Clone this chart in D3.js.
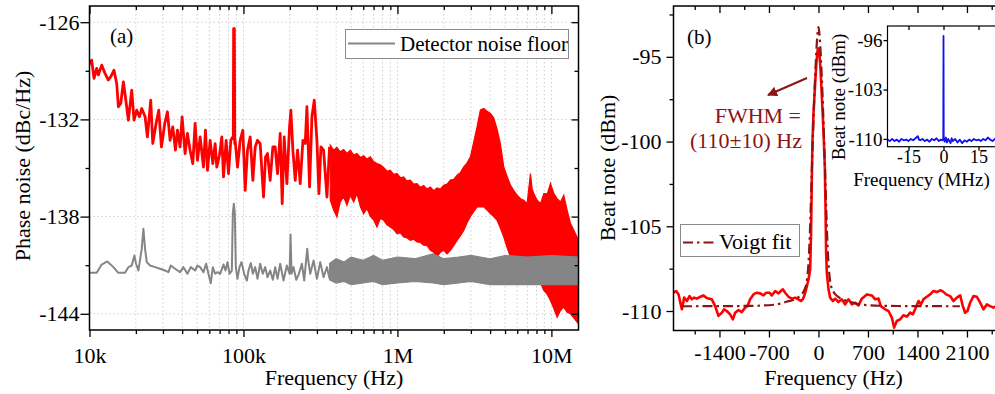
<!DOCTYPE html>
<html><head><meta charset="utf-8">
<script src="https://cdn.jsdelivr.net/npm/d3@7"></script>
<style>body{margin:0;background:#fff}svg{display:block}</style>
</head><body><svg id="c" width="995" height="394"></svg>
<script>
// ---------------- DATA ----------------
// Panel (a): phase noise, sparse part of the red trace (Hz, dBc/Hz)
const aRedFreq = [10000,10330,10700,11130,11410,12000,12610,13260,13730,14430,15020,15400,15950,16600,17270,17890,18800,19470,20260,21090,21840,22960,23770,24990,25750,27060,28170,29320,30820,32070,33380,34740,36150,37250,38770,39950,41780,43260,45030,46870,48530,50260,52300,54980,56650,58370,60750,63230,65470,67130,69840,72330,74180,77200,79940,82780,85290,85900,86300,87300,87800,88330,91460,95190,99060,102600,106200,110600,115100,119200,123400,128400,135000,139100,143300,149100,155200,160700,166400,173200,178500,183900,191400,199200,203200,209400,216900,224600,233700,243300,251900,258300,268800,278400,288300,300000,309100,318500,331400,348400,362600];
const aRedLevel = [-128.6,-128.34,-129.47,-128.85,-129.26,-128.65,-129.16,-129.57,-129.37,-128.96,-129.78,-131.22,-131.02,-129.68,-130.91,-132.05,-130.19,-132.05,-131.43,-131.84,-131.33,-131.84,-133.08,-130.81,-133.49,-132.25,-131.43,-133.70,-132.25,-131.53,-133.29,-132.46,-133.90,-132.67,-133.70,-131.84,-134.11,-132.87,-133.90,-134.73,-132.25,-134.52,-133.08,-134.94,-132.67,-135.14,-133.29,-134.73,-133.49,-134.94,-134.21,-133.08,-135.55,-133.29,-135.35,-133.29,-133.08,-133.2,-126.4,-126.4,-133.5,-133.29,-134.94,-133.29,-132.67,-136.38,-133.90,-133.08,-135.76,-133.70,-133.29,-133.49,-136.79,-134.32,-134.11,-135.76,-133.70,-133.70,-135.35,-132.87,-137.20,-133.08,-135.97,-132.46,-131.43,-133.90,-135.76,-133.90,-135.97,-133.29,-133.49,-131.22,-136.17,-131.84,-130.81,-133.29,-136.58,-133.70,-133.90,-136.79,-133.70];
// Panel (a): dense part of the red trace, upper / lower envelope
const aRedBandFreq  = [366200,385000,404600,425000,447200,470000,494000,520000,546000,575000,603200,635000,666600,700000,736500,775000,813600,855000,899000,945000,993600,1045000,1098000,1150000,1213000,1275000,1340000,1410000,1481000,1560000,1637000,1720000,1808000,1900000,1998000,2100000,2208000,2320000,2440000,2560000,2696000,2830000,2979000,3130000,3292000,3459000,3637000,3820000,4018000,4220000,4440000,4660000,4906000,5150000,5422000,5700000,5990000,6300000,6621000,6957000,7313000,7500000,7688000,8083000,8500000,8929000,9400000,9866000,10400000,10900000,11450000,12040000,12650000,13310000,14100000,15000000];
const aRedBandUpper = [-133.59,-133.9,-133.73,-134.0,-133.86,-134.1,-133.90,-134.2,-134.10,-134.35,-134.25,-134.45,-134.31,-134.6,-134.72,-134.8,-134.97,-135.2,-135.14,-135.4,-135.34,-135.6,-135.55,-135.8,-135.75,-136.0,-135.96,-136.2,-136.08,-136.3,-136.17,-136.4,-136.23,-136.3,-136.06,-136.0,-135.75,-135.7,-135.44,-135.3,-134.93,-134.7,-134.31,-133.4,-132.45,-131.42,-131.32,-131.5,-131.63,-131.9,-132.6,-133.5,-134.93,-135.5,-136.06,-136.4,-136.68,-136.9,-136.99,-137.20,-135.34,-136.3,-136.58,-136.99,-137.2,-136.58,-136.6,-135.96,-136.6,-136.89,-137.1,-136.68,-137.6,-138.43,-138.9,-139.47];
const aRedBandLower = [-136.99,-137.6,-138.02,-137.1,-136.78,-137.3,-136.68,-137.1,-136.58,-137.4,-137.82,-137.5,-137.99,-138.2,-138.64,-138.1,-138.23,-138.5,-138.64,-138.8,-139.05,-139.0,-139.26,-139.3,-139.47,-139.4,-139.57,-139.6,-139.77,-139.8,-140.08,-140.2,-140.50,-140.2,-140.08,-140.3,-140.08,-139.8,-139.47,-139.2,-138.85,-138.4,-137.99,-137.7,-137.40,-137.40,-137.40,-137.6,-137.82,-138.0,-138.23,-138.7,-139.26,-139.9,-140.50,-140.5,-140.70,-140.9,-141.11,-140.90,-140.70,-140.9,-141.0,-141.53,-142.1,-142.56,-142.8,-143.18,-143.7,-144.21,-143.8,-143.59,-143.9,-144.0,-144.3,-144.62];
// Panel (a): detector noise floor (grey), sparse part
const aGrayFreq = [10000,11130,12000,13060,14290,15400,17010,17890,18800,19570,20060,20770,21840,22390,22960,23540,24740,26670,28730,30970,32560,33710,35970,38770,40750,43260,45480,48530,50260,52300,54980,57220,59250,61360,63230,65470,67800,70560,74180,76430,78760,81160,84050,85290,86570,87870,89200,91460,94240,97100,101100,105200,107800,111700,115100,119200,123400,128400,133600,138400,143300,149100,155200,160700,166400,173200,182100,191400,199200,202200,205300,211500,220100,229100,239600,248200,255700,259600,263500,271500,285400,300000,315300,331400,348400,362600];
const aGrayLevel = [-141.47,-141.47,-140.96,-140.77,-141.12,-141.47,-141.47,-141.12,-141.02,-140.40,-140.91,-141.33,-139.99,-138.75,-139.99,-140.81,-141.02,-141.12,-141.22,-141.33,-141.43,-141.02,-141.22,-141.43,-141.12,-141.53,-141.12,-141.33,-141.02,-141.12,-141.43,-140.91,-141.53,-142.11,-141.12,-141.53,-141.43,-141.53,-140.96,-141.33,-140.81,-141.53,-141.33,-137.82,-137.20,-137.82,-141.12,-141.84,-141.12,-140.81,-141.53,-141.95,-141.33,-140.87,-141.53,-141.12,-141.84,-140.91,-141.53,-141.12,-141.74,-141.33,-141.90,-141.12,-141.84,-140.91,-141.95,-141.02,-141.53,-139.10,-141.53,-141.12,-141.90,-141.53,-140.91,-141.95,-140.61,-139.99,-140.71,-141.53,-140.71,-141.84,-140.81,-141.74,-141.12,-141.84];
// Panel (a): detector noise floor, dense part envelope
const aGrayBandFreq  = [362600,400000,450000,500000,600000,700000,800000,1000000,1300000,1700000,2000000,2500000,3000000,4000000,5000000,7000000,10000000,15000000];
const aGrayBandUpper = [-140.9,-140.6,-140.8,-140.5,-140.7,-140.4,-140.7,-140.5,-140.6,-140.3,-140.6,-140.5,-140.4,-140.6,-140.4,-140.5,-140.4,-140.5];
const aGrayBandLower = [-141.9,-142.1,-142.0,-142.2,-142.1,-142.0,-142.2,-142.1,-142.0,-142.1,-142.2,-142.1,-142.0,-142.2,-142.2,-142.2,-142.2,-142.2];
const aXTicks = [1e4,1e5,1e6,1e7];
const aXLabels = ["10k","100k","1M","10M"];
const aYTicks = [-126,-132,-138,-144];
const aYLabels = ["-126","-132","-138","-144"];
const aYMinor = [-129,-135,-141];

// Panel (b): beat note (Hz, dBm)
const bBeatFreq = [-2050,-2012,-1979,-1932,-1899,-1861,-1824,-1791,-1758,-1720,-1673,-1626,-1588,-1555,-1508,-1461,-1414,-1366,-1334,-1296,-1249,-1211,-1178,-1131,-1084,-1037,-1004,-966,-919,-872,-824,-777,-740,-693,-660,-612,-565,-532,-504,-471,-424,-377,-330,-283,-249,-221,-202,-174,-141,-117,-105,-95,-85,-70,-50,-30,-12,0,12,30,50,70,90,100,108,118,142,165,203,236,283,330,378,425,472,519,566,613,684,755,802,849,882,943,990,1038,1070,1108,1155,1202,1250,1297,1334,1367,1415,1448,1485,1532,1580,1627,1674,1721,1759,1806,1862,1909,1957,2004,2042,2074,2107,2145,2192,2240,2287,2334,2381,2428,2475,2520];
const bBeatLevel = [-108.92,-108.82,-109.02,-109.90,-109.21,-109.41,-109.12,-109.31,-109.21,-109.27,-109.16,-109.08,-109.21,-109.27,-109.31,-109.71,-110.29,-110.10,-109.90,-110.0,-110.20,-110.49,-110.10,-109.94,-110.06,-109.80,-109.71,-109.31,-109.02,-108.92,-108.96,-109.08,-108.92,-108.92,-109.08,-108.82,-108.96,-108.82,-108.72,-108.92,-109.16,-109.27,-109.21,-109.31,-109.41,-109.31,-109.12,-108.72,-108.14,-107.55,-105.5,-102.5,-100.0,-98.3,-96.8,-95.4,-94.6,-94.5,-94.7,-95.8,-97.5,-99.3,-101.5,-104.0,-106.5,-107.74,-108.72,-109.21,-109.41,-109.27,-109.47,-109.31,-109.61,-109.31,-109.61,-109.51,-109.67,-109.27,-109.02,-109.08,-109.31,-109.27,-109.71,-109.90,-110.0,-110.39,-110.98,-110.59,-110.49,-110.25,-110.33,-110.10,-110.20,-109.90,-109.41,-109.61,-109.31,-109.16,-109.02,-108.82,-108.88,-108.78,-108.84,-109.02,-109.12,-109.41,-109.21,-109.08,-109.71,-110.10,-110.0,-109.51,-109.12,-109.16,-109.51,-109.90,-109.61,-109.71,-109.80,-109.7];
const bFitFreq  = [-1930,-1000,-600,-450,-350,-260,-210,-170,-145,-125,-105,-85,-65,-45,-25,-10,0,10,25,45,65,85,105,125,145,170,210,260,350,450,600,1000,2000];
const bFitLevel = [-109.72,-109.70,-109.62,-109.45,-109.33,-109.1,-108.85,-108.35,-107.4,-105.8,-103.3,-100.6,-98.1,-96.0,-94.3,-93.5,-93.25,-93.5,-94.3,-96.0,-98.1,-100.6,-103.3,-105.8,-107.4,-108.35,-108.85,-109.1,-109.33,-109.45,-109.62,-109.70,-109.72];
const bXTicks = [-1400,-700,0,700,1400,2100];
const bXLabels = ["-1400","-700","0","700","1400","2100"];
const bXMinor = [-1750,-1050,-350,350,1050,1750,2450];
const bYTicks = [-95,-100,-105,-110];
const bYLabels = ["-95","-100","-105","-110"];
const bYMinor = [-92.5,-97.5,-102.5,-107.5];

// Inset: wide span beat note (MHz, dBm)
const insetFreq = [-24,-23,-22,-21,-20,-19,-18,-17,-16,-15,-14,-13,-12,-11,-10.5,-10,-9,-8,-7,-6,-5,-4,-3,-2,-1,-0.5,-0.1,0,0.1,0.5,1,1.5,2,3,3.5,4,5,6,7,8,9,10,11,12,13,14,15,16,17,18,19,20,21,22,23,24];
const insetLevel = [-110.1,-110.3,-110.0,-110.3,-110.1,-110.4,-110.0,-110.2,-110.1,-110.3,-110.0,-110.2,-109.9,-109.6,-110.1,-110.2,-110.0,-110.3,-110.1,-110.4,-110.0,-110.2,-109.9,-110.3,-110.1,-110.2,-110.0,-95.4,-110.0,-110.4,-109.8,-110.5,-110.0,-110.6,-109.9,-110.3,-110.0,-110.5,-110.1,-110.6,-110.2,-110.4,-110.1,-110.3,-110.0,-110.2,-110.1,-110.3,-110.0,-110.2,-109.8,-110.1,-110.3,-110.0,-110.2,-110.1];
const inXTicks = [-15,0,15];
const inXLabels = ["-15","0","15"];
const inYTicks = [-96,-103,-110];
const inYLabels = ["-96","-103","-110"];

// ---------------- DRAWING ----------------
const FONT = '"Liberation Serif","Times New Roman",Times,serif';
const RED = "#ff0000", GRAY = "#858585", DARKRED = "#8b1414", BLUE = "#1010f0";
const svg = d3.select("#c").attr("font-family", FONT);

function styleAxis(g, size) {
  g.attr("font-family", FONT).attr("font-size", size);
  g.select(".domain").remove();
  g.selectAll(".tick line").attr("stroke", "#000").attr("stroke-width", 1.3);
  g.selectAll(".tick text").attr("fill", "#000");
  return g;
}

// ===== Panel (a) =====
const aL = 89.5, aR = 578.5, aT = 6, aB = 330;
const ax = d3.scaleLog().domain([1e4, 1.5e7]).range([aL, aR]);
const ay = d3.scaleLinear().domain([-145, -125]).range([aB, aT]);
const aXMinor = [];
[1e4, 1e5, 1e6, 1e7].forEach(d => { for (let k = 2; k <= 9; k++) { const v = d * k; if (v < 1.5e7) aXMinor.push(v); } });

const ga = svg.append("g");
ga.append("g").selectAll("line").data(aXMinor.concat([1e5, 1e6, 1e7])).join("line")
  .attr("x1", d => ax(d)).attr("x2", d => ax(d)).attr("y1", aT).attr("y2", aB)
  .attr("stroke", "#cfcfcf").attr("stroke-width", 1).attr("stroke-dasharray", "1.5,2.5");
ga.append("g").selectAll("line").data(aYTicks).join("line")
  .attr("x1", aL).attr("x2", aR).attr("y1", d => ay(d)).attr("y2", d => ay(d))
  .attr("stroke", "#cfcfcf").attr("stroke-width", 1).attr("stroke-dasharray", "1.5,2.5");

svg.append("clipPath").attr("id", "clipA").append("rect").attr("x", aL).attr("y", aT).attr("width", aR - aL).attr("height", aB - aT);
const gaData = ga.append("g").attr("clip-path", "url(#clipA)");

const redBand = aRedBandFreq.map((f, i) => ({ f, u: aRedBandUpper[i], l: aRedBandLower[i] }));
gaData.append("path").datum(redBand)
  .attr("d", d3.area().x(d => ax(d.f)).y0(d => ay(d.l)).y1(d => ay(d.u)))
  .attr("fill", RED).attr("stroke", RED).attr("stroke-width", 1.2).attr("stroke-linejoin", "miter");
gaData.append("path").datum(aRedFreq.map((f, i) => [f, aRedLevel[i]]))
  .attr("d", d3.line().x(d => ax(d[0])).y(d => ay(d[1])))
  .attr("fill", "none").attr("stroke", RED).attr("stroke-width", 2.8).attr("stroke-linejoin", "round");

const grayBand = aGrayBandFreq.map((f, i) => ({ f, u: aGrayBandUpper[i], l: aGrayBandLower[i] }));
gaData.append("path").datum(grayBand)
  .attr("d", d3.area().x(d => ax(d.f)).y0(d => ay(d.l)).y1(d => ay(d.u)))
  .attr("fill", GRAY).attr("stroke", GRAY).attr("stroke-width", 1.2);
gaData.append("path").datum(aGrayFreq.map((f, i) => [f, aGrayLevel[i]]))
  .attr("d", d3.line().x(d => ax(d[0])).y(d => ay(d[1])))
  .attr("fill", "none").attr("stroke", GRAY).attr("stroke-width", 2).attr("stroke-linejoin", "round");

styleAxis(ga.append("g").attr("transform", `translate(${aL},0)`)
  .call(d3.axisLeft(ay).tickValues(aYTicks).tickSize(9).tickPadding(1).tickFormat((d, i) => aYLabels[i])), 22);
styleAxis(ga.append("g").attr("transform", `translate(${aL},0)`)
  .call(d3.axisLeft(ay).tickValues(aYMinor).tickSize(4).tickFormat("")), 22);
styleAxis(ga.append("g").attr("transform", `translate(${aR},0)`)
  .call(d3.axisLeft(ay).tickValues(aYTicks).tickSize(7).tickFormat("")), 22);
styleAxis(ga.append("g").attr("transform", `translate(${aR},0)`)
  .call(d3.axisLeft(ay).tickValues(aYMinor).tickSize(4).tickFormat("")), 22);
styleAxis(ga.append("g").attr("transform", `translate(0,${aB})`)
  .call(d3.axisBottom(ax).tickValues(aXTicks).tickSize(7).tickPadding(10).tickFormat((d, i) => aXLabels[i])), 22);
styleAxis(ga.append("g").attr("transform", `translate(0,${aB})`)
  .call(d3.axisBottom(ax).tickValues(aXMinor).tickSize(4).tickFormat("")), 22);
styleAxis(ga.append("g").attr("transform", `translate(0,${aT})`)
  .call(d3.axisBottom(ax).tickValues(aXTicks).tickSize(8).tickFormat("")), 22);
styleAxis(ga.append("g").attr("transform", `translate(0,${aT})`)
  .call(d3.axisBottom(ax).tickValues(aXMinor).tickSize(4).tickFormat("")), 22);
ga.append("rect").attr("x", aL).attr("y", aT).attr("width", aR - aL).attr("height", aB - aT)
  .attr("fill", "none").attr("stroke", "#000").attr("stroke-width", 1.5);

ga.append("text").attr("x", (aL + aR) / 2).attr("y", 385).attr("text-anchor", "middle").attr("font-size", 22).text("Frequency (Hz)");
ga.append("text").attr("transform", "translate(30,166) rotate(-90)").attr("text-anchor", "middle").attr("font-size", 22).text("Phase noise (dBc/Hz)");
ga.append("text").attr("x", 110).attr("y", 43).attr("font-size", 21).text("(a)");
ga.append("rect").attr("x", 345.5).attr("y", 29.5).attr("width", 223).attr("height", 29)
  .attr("fill", "#fff").attr("stroke", "#8a8a8a").attr("stroke-width", 1);
ga.append("line").attr("x1", 348).attr("x2", 395).attr("y1", 43.5).attr("y2", 43.5).attr("stroke", GRAY).attr("stroke-width", 2);
ga.append("text").attr("x", 400).attr("y", 51).attr("font-size", 21).text("Detector noise floor");

// ===== Panel (b) =====
const bL = 673.5, bT = 6, bB = 330.5;
const bx = d3.scaleLinear().domain([-2050, 2550]).range([bL, bL + 4600 * 0.070714]);
const by = d3.scaleLinear().domain([-111.15, -92]).range([bB, bT]);
const bR = bx(2550);
const gb = svg.append("g");
svg.append("clipPath").attr("id", "clipB").append("rect").attr("x", bL).attr("y", bT).attr("width", bR - bL).attr("height", bB - bT);
const gbData = gb.append("g").attr("clip-path", "url(#clipB)");
gbData.append("path").datum(bBeatFreq.map((f, i) => [f, bBeatLevel[i]]))
  .attr("d", d3.line().x(d => bx(d[0])).y(d => by(d[1])))
  .attr("fill", "none").attr("stroke", RED).attr("stroke-width", 2.6).attr("stroke-linejoin", "round");
gbData.append("path").datum(bFitFreq.map((f, i) => [f, bFitLevel[i]]))
  .attr("d", d3.line().curve(d3.curveMonotoneX).x(d => bx(d[0])).y(d => by(d[1])))
  .attr("fill", "none").attr("stroke", DARKRED).attr("stroke-width", 2.2).attr("stroke-dasharray", "10,4,2.5,4");

styleAxis(gb.append("g").attr("transform", `translate(${bL},0)`)
  .call(d3.axisLeft(by).tickValues(bYTicks).tickSize(7).tickPadding(5).tickFormat((d, i) => bYLabels[i])), 22);
styleAxis(gb.append("g").attr("transform", `translate(${bL},0)`)
  .call(d3.axisLeft(by).tickValues(bYMinor).tickSize(4).tickFormat("")), 22);
styleAxis(gb.append("g").attr("transform", `translate(0,${bB})`)
  .call(d3.axisBottom(bx).tickValues(bXTicks).tickSize(7).tickPadding(7).tickFormat((d, i) => bXLabels[i])), 22);
styleAxis(gb.append("g").attr("transform", `translate(0,${bB})`)
  .call(d3.axisBottom(bx).tickValues(bXMinor).tickSize(4).tickFormat("")), 22);
styleAxis(gb.append("g").attr("transform", `translate(0,${bT})`)
  .call(d3.axisBottom(bx).tickValues(bXTicks).tickSize(7).tickFormat("")), 22);
styleAxis(gb.append("g").attr("transform", `translate(0,${bT})`)
  .call(d3.axisBottom(bx).tickValues(bXMinor).tickSize(4).tickFormat("")), 22);
gb.append("rect").attr("x", bL).attr("y", bT).attr("width", bR - bL).attr("height", bB - bT)
  .attr("fill", "none").attr("stroke", "#000").attr("stroke-width", 1.5);

gb.append("text").attr("x", 833.5).attr("y", 385).attr("text-anchor", "middle").attr("font-size", 22).text("Frequency (Hz)");
gb.append("text").attr("transform", "translate(615,168) rotate(-90)").attr("text-anchor", "middle").attr("font-size", 22).text("Beat note (dBm)");
gb.append("text").attr("x", 687).attr("y", 44).attr("font-size", 21).text("(b)");
gb.append("text").attr("x", 801).attr("y", 123).attr("text-anchor", "end").attr("font-size", 22).attr("fill", DARKRED).text("FWHM =");
gb.append("text").attr("x", 802).attr("y", 148).attr("text-anchor", "end").attr("font-size", 22).attr("fill", DARKRED).text("(110\u00b110) Hz");
svg.append("defs").append("marker").attr("id", "arr").attr("viewBox", "0 0 10 10").attr("refX", 9).attr("refY", 5)
  .attr("markerWidth", 5).attr("markerHeight", 5).attr("orient", "auto")
  .append("path").attr("d", "M0,0L10,5L0,10z").attr("fill", DARKRED);
gb.append("line").attr("x1", 807).attr("y1", 78).attr("x2", 768).attr("y2", 95)
  .attr("stroke", DARKRED).attr("stroke-width", 2).attr("marker-end", "url(#arr)");
gb.append("rect").attr("x", 680.5).attr("y", 224.5).attr("width", 119).attr("height", 32)
  .attr("fill", "#fff").attr("stroke", "#8a8a8a").attr("stroke-width", 1);
gb.append("line").attr("x1", 683).attr("x2", 715).attr("y1", 242.5).attr("y2", 242.5)
  .attr("stroke", DARKRED).attr("stroke-width", 2.2).attr("stroke-dasharray", "10,4,2.5,4");
gb.append("text").attr("x", 719).attr("y", 249).attr("font-size", 22).text("Voigt fit");

// ===== Inset =====
const iL = 887.5, iT = 26, iB = 146.7;
const ix = d3.scaleLinear().domain([-24, 24]).range([iL, iL + 48 * 35 / 15]);
const iy = d3.scaleLinear().domain([-111.1, -94]).range([iB, iT]);
const iR = ix(24);
const gi = svg.append("g");
gi.append("rect").attr("x", iL).attr("y", iT).attr("width", iR - iL).attr("height", iB - iT).attr("fill", "#fff");
svg.append("clipPath").attr("id", "clipI").append("rect").attr("x", iL).attr("y", iT).attr("width", iR - iL).attr("height", iB - iT);
gi.append("g").attr("clip-path", "url(#clipI)").append("path")
  .datum(insetFreq.map((f, i) => [f, insetLevel[i]]))
  .attr("d", d3.line().x(d => ix(d[0])).y(d => iy(d[1])))
  .attr("fill", "none").attr("stroke", BLUE).attr("stroke-width", 1.8).attr("stroke-linejoin", "round");
styleAxis(gi.append("g").attr("transform", `translate(${iL},0)`)
  .call(d3.axisLeft(iy).tickValues(inYTicks).tickSize(4).tickPadding(1).tickFormat((d, i) => inYLabels[i])), 19);
styleAxis(gi.append("g").attr("transform", `translate(0,${iB})`)
  .call(d3.axisBottom(ix).tickValues(inXTicks).tickSize(4).tickPadding(0).tickFormat((d, i) => inXLabels[i])), 18);
styleAxis(gi.append("g").attr("transform", `translate(0,${iT})`)
  .call(d3.axisBottom(ix).tickValues(inXTicks).tickSize(4).tickFormat("")), 19);
gi.append("rect").attr("x", iL).attr("y", iT).attr("width", iR - iL).attr("height", iB - iT)
  .attr("fill", "none").attr("stroke", "#000").attr("stroke-width", 1.2);
gi.append("text").attr("x", 921.5).attr("y", 186).attr("text-anchor", "middle").attr("font-size", 19).text("Frequency (MHz)");
gi.append("text").attr("transform", "translate(845,97) rotate(-90)").attr("text-anchor", "middle").attr("font-size", 19).text("Beat note (dBm)");
</script>
</body></html>
